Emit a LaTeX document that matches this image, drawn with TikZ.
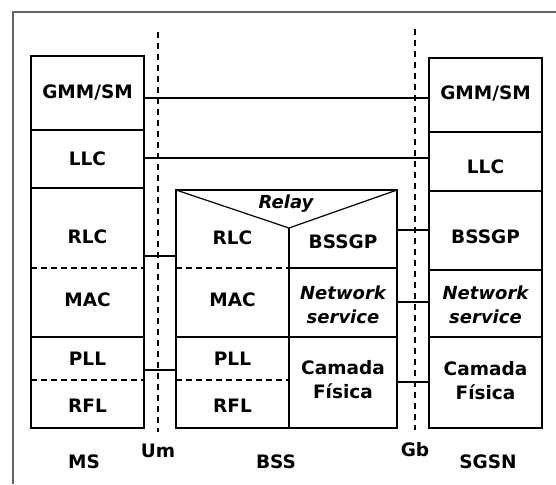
\documentclass[tikz,border=0pt]{standalone}
\usepackage{fontspec}
\setmainfont{DejaVu Sans}
\usetikzlibrary{positioning}

\begin{document}
\begin{tikzpicture}[x=1pt, y=-1pt,
    box/.style={line width=1.2pt},
    sublayer/.style={line width=1.1pt, dash pattern=on 6pt off 4pt},
    iface/.style={line width=1.1pt, dash pattern=on 6pt off 5pt},
    conn/.style={line width=1.1pt},
    lbl/.style={font=\fontsize{18.5}{24}\selectfont\bfseries, align=center, inner xsep=0pt, inner ysep=0pt},
    ilbl/.style={lbl, font=\fontsize{18}{24}\selectfont\bfseries\itshape},
    wide/.style={minimum width=113pt},
    narrow/.style={minimum width=108pt}]
    % --- parametros das colunas (px) ---
    \def\msL{31}  \def\msR{144}
    \def\bsL{176} \def\bsM{289} \def\bsR{397}
    \def\sgL{429} \def\sgR{542}
    \def\yBase{428}

    \useasboundingbox (0,0) rectangle (556,484);

    % --- moldura ---
    \draw[black!60, line width=1.5pt] (13,484) -- (13,12) -- (556,12);

    % --- interfaces Um e Gb ---
    \draw[iface] (158,32) -- (158,432);
    \draw[iface] (415,29) -- (415,430);

    % --- pilha MS ---
    \draw[box] (\msL,56) rectangle (\msR,\yBase);
    \draw[box] (\msL,130) -- (\msR,130);
    \draw[box] (\msL,188) -- (\msR,188);
    \draw[sublayer] (\msL,268) -- (\msR,268);
    \draw[box] (\msL,337) -- (\msR,337);
    \draw[sublayer] (\msL,380) -- (\msR,380);

    % --- pilha BSS ---
    \draw[box] (\bsL,190) rectangle (\bsR,\yBase);
    \draw[box] (\bsL,190) -- (\bsM,228) -- (\bsR,190);
    \draw[box] (\bsM,228) -- (\bsM,\yBase);
    \draw[sublayer] (\bsL,268) -- (\bsM,268);
    \draw[box] (\bsM,268) -- (\bsR,268);
    \draw[box] (\bsL,337) -- (\bsR,337);
    \draw[sublayer] (\bsL,380) -- (\bsM,380);

    % --- pilha SGSN ---
    \draw[box] (\sgL,58) rectangle (\sgR,\yBase);
    \draw[box] (\sgL,132) -- (\sgR,132);
    \draw[box] (\sgL,191) -- (\sgR,191);
    \draw[box] (\sgL,270) -- (\sgR,270);
    \draw[box] (\sgL,337) -- (\sgR,337);

    % --- camadas ---
    \node[lbl, wide] (msgmm) at (87.5,92) {GMM/SM};
    \node[lbl, wide] (msllc) at (87.5,159) {LLC};
    \node[lbl, wide] (msrlc) at (87.5,237) {RLC};
    \node[lbl, wide] (msmac) at (87.5,300) {MAC};
    \node[lbl, wide] (mspll) at (87.5,359) {PLL};
    \node[lbl, wide] (msrfl) at (87.5,406) {RFL};

    \node[ilbl] (relay) at (286,204) {Relay};
    \node[lbl, wide] (bsrlc) at (232.5,238) {RLC};
    \node[lbl, wide] (bsmac) at (232.5,300) {MAC};
    \node[lbl, wide] (bspll) at (232.5,359) {PLL};
    \node[lbl, wide] (bsrfl) at (232.5,406) {RFL};
    \node[lbl, narrow] (bsbssgp) at (343,242) {BSSGP};
    \node[ilbl, narrow] (bsns) at (343,305) {Network\\service};
    \node[lbl, narrow] (bsphy) at (343,380) {Camada\\Física};

    \node[lbl, wide] (sggmm) at (485.5,93) {GMM/SM};
    \node[lbl, wide] (sgllc) at (485.5,167) {LLC};
    \node[lbl, wide] (sgbssgp) at (485.5,237) {BSSGP};
    \node[ilbl, wide] (sgns) at (485.5,305) {Network\\service};
    \node[lbl, wide] (sgphy) at (485.5,381) {Camada\\Física};

    % --- ligacoes entre pares ---
    \draw[conn] ([yshift=-6pt]msgmm.east) -- ([yshift=-6pt]msgmm.east -| sggmm.west);
    \draw[conn] ([yshift=1pt]msllc.east) -- ([yshift=1pt]msllc.east -| sgllc.west);
    \draw[conn] ([yshift=-19pt]msrlc.east) -- ([yshift=-19pt]msrlc.east -| bsrlc.west);
    \draw[conn] ([yshift=-11pt]mspll.east) -- ([yshift=-11pt]mspll.east -| bspll.west);
    \draw[conn] ([yshift=7pt]sgbssgp.west) -- ([yshift=7pt]sgbssgp.west -| bsbssgp.east);
    \draw[conn] ([yshift=3pt]sgns.west) -- ([yshift=3pt]sgns.west -| bsns.east);
    \draw[conn] ([yshift=-1pt]sgphy.west) -- ([yshift=-1pt]sgphy.west -| bsphy.east);

    % --- nomes ---
    \node[lbl] (ms) at (84,462) {MS};
    \node[lbl] (um) at (158,451) {Um};
    \node[lbl] (bss) at (276,462) {BSS};
    \node[lbl] (gb) at (415,450) {Gb};
    \node[lbl] (sgsn) at (488,462) {SGSN};
\end{tikzpicture}
\end{document}
